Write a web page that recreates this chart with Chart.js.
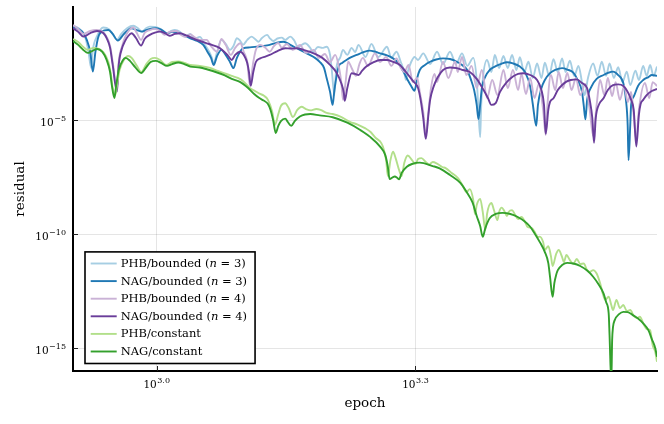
<!DOCTYPE html>
<html>
<head>
<meta charset="utf-8">
<script src="https://cdn.jsdelivr.net/npm/chart.js@4.4.1/dist/chart.umd.min.js"></script>
<style>
html,body{margin:0;padding:0;background:#ffffff;}
#wrap{width:664px;height:424px;position:relative;}
</style>
</head>
<body>
<div id="wrap"><canvas id="c" width="664" height="424"></canvas></div>
<script>
// ---- data: [log10(epoch), log10(residual)] ----
const phbBounded3 = [[2.903,-0.87],[2.909,-0.96],[2.915,-1.18],[2.918,-1.48],[2.921,-2.01],[2.924,-2.71],[2.926,-1.92],[2.931,-1.31],[2.938,-0.94],[2.945,-1.02],[2.949,-1.22],[2.954,-1.48],[2.959,-1.22],[2.966,-0.96],[2.973,-0.86],[2.978,-0.96],[2.983,-1.12],[2.988,-0.96],[2.992,-0.90],[2.998,-0.91],[3.004,-1.00],[3.012,-1.19],[3.017,-1.09],[3.021,-1.05],[3.027,-1.13],[3.033,-1.34],[3.039,-1.22],[3.044,-1.44],[3.050,-1.35],[3.056,-1.70],[3.061,-2.01],[3.064,-2.27],[3.066,-2.55],[3.070,-2.01],[3.075,-1.48],[3.080,-1.66],[3.085,-1.92],[3.089,-1.75],[3.093,-1.41],[3.097,-1.53],[3.100,-1.70],[3.105,-1.48],[3.110,-1.34],[3.114,-1.44],[3.118,-1.56],[3.122,-1.40],[3.128,-1.26],[3.131,-1.40],[3.135,-1.53],[3.140,-1.42],[3.145,-1.38],[3.149,-1.48],[3.155,-1.34],[3.159,-1.48],[3.164,-1.79],[3.172,-1.63],[3.178,-1.83],[3.181,-2.01],[3.187,-1.79],[3.192,-1.83],[3.197,-1.78],[3.201,-2.14],[3.203,-2.80],[3.206,-3.90],[3.208,-2.80],[3.213,-2.23],[3.216,-1.92],[3.221,-2.14],[3.226,-1.83],[3.230,-2.01],[3.234,-1.70],[3.242,-2.23],[3.249,-1.66],[3.257,-2.23],[3.267,-1.78],[3.272,-2.27],[3.278,-2.00],[3.283,-2.45],[3.287,-2.89],[3.289,-3.24],[3.291,-2.89],[3.295,-2.45],[3.299,-2.23],[3.303,-2.36],[3.309,-2.07],[3.317,-2.54],[3.325,-2.00],[3.332,-2.54],[3.340,-2.00],[3.347,-2.54],[3.354,-2.07],[3.360,-2.62],[3.367,-2.27],[3.371,-3.24],[3.373,-4.55],[3.375,-5.74],[3.376,-4.55],[3.378,-3.24],[3.383,-2.36],[3.388,-2.89],[3.392,-2.14],[3.397,-2.71],[3.402,-2.19],[3.407,-2.71],[3.412,-2.14],[3.417,-2.80],[3.421,-2.24],[3.426,-2.89],[3.431,-2.44],[3.436,-3.15],[3.441,-2.51],[3.446,-3.15],[3.450,-2.48],[3.455,-3.06],[3.460,-2.33],[3.465,-2.89],[3.470,-2.29],[3.474,-2.89],[3.479,-2.39],[3.484,-3.06],[3.489,-2.62],[3.493,-3.33],[3.496,-3.90],[3.500,-3.15],[3.506,-2.51],[3.511,-3.06],[3.516,-2.44],[3.521,-3.06],[3.525,-2.51],[3.530,-3.15],[3.535,-2.68],[3.540,-3.33],[3.545,-2.87],[3.549,-3.46],[3.555,-2.83],[3.559,-3.24],[3.564,-2.62],[3.568,-3.06],[3.572,-2.58],[3.576,-3.06],[3.580,-2.65]];

const nagBounded3 = [[2.903,-0.90],[2.909,-1.00],[2.915,-1.19],[2.919,-1.48],[2.923,-2.01],[2.926,-2.87],[2.929,-2.01],[2.932,-1.40],[2.936,-1.12],[2.944,-1.05],[2.949,-1.22],[2.955,-1.51],[2.962,-1.22],[2.971,-0.97],[2.977,-1.05],[2.983,-1.12],[2.990,-1.02],[3.000,-0.97],[3.006,-1.05],[3.012,-1.19],[3.018,-1.13],[3.023,-1.15],[3.031,-1.27],[3.039,-1.41],[3.047,-1.53],[3.054,-1.70],[3.059,-2.01],[3.063,-2.27],[3.066,-2.58],[3.070,-2.19],[3.075,-1.92],[3.080,-2.14],[3.085,-2.45],[3.089,-2.72],[3.093,-2.27],[3.100,-1.85],[3.108,-1.81],[3.116,-1.78],[3.123,-1.75],[3.131,-1.70],[3.138,-1.62],[3.147,-1.56],[3.155,-1.70],[3.164,-1.88],[3.174,-2.07],[3.182,-2.23],[3.189,-2.44],[3.194,-2.71],[3.197,-3.15],[3.201,-3.76],[3.204,-4.33],[3.206,-3.68],[3.211,-2.65],[3.215,-2.49],[3.220,-2.36],[3.225,-2.25],[3.232,-2.14],[3.239,-2.03],[3.247,-1.95],[3.254,-2.01],[3.259,-2.07],[3.267,-2.16],[3.274,-2.29],[3.280,-2.49],[3.286,-2.87],[3.291,-3.24],[3.295,-3.50],[3.299,-3.71],[3.302,-3.15],[3.305,-2.80],[3.311,-2.58],[3.317,-2.44],[3.324,-2.34],[3.332,-2.29],[3.340,-2.32],[3.348,-2.44],[3.354,-2.58],[3.360,-2.80],[3.364,-3.19],[3.368,-3.68],[3.371,-4.33],[3.373,-4.95],[3.375,-4.33],[3.377,-3.59],[3.381,-3.09],[3.386,-2.80],[3.392,-2.65],[3.399,-2.54],[3.406,-2.46],[3.413,-2.51],[3.421,-2.65],[3.427,-2.89],[3.433,-3.53],[3.436,-4.29],[3.440,-5.25],[3.442,-4.33],[3.446,-3.60],[3.450,-3.24],[3.456,-2.94],[3.462,-2.80],[3.470,-2.72],[3.476,-2.78],[3.483,-2.92],[3.488,-3.24],[3.493,-3.75],[3.495,-4.33],[3.497,-4.96],[3.499,-4.11],[3.504,-3.53],[3.510,-3.19],[3.518,-3.02],[3.523,-2.93],[3.529,-2.87],[3.535,-3.02],[3.541,-3.38],[3.544,-4.11],[3.546,-5.21],[3.547,-6.75],[3.549,-5.21],[3.550,-4.33],[3.553,-3.97],[3.558,-3.50],[3.564,-3.24],[3.570,-3.11],[3.574,-3.02],[3.580,-3.06]];

const phbBounded4 = [[2.903,-0.83],[2.909,-1.00],[2.915,-1.22],[2.923,-1.09],[2.930,-1.05],[2.938,-1.13],[2.942,-1.35],[2.946,-1.75],[2.949,-2.45],[2.954,-3.59],[2.956,-2.45],[2.960,-1.75],[2.964,-1.31],[2.973,-0.94],[2.977,-1.18],[2.982,-1.48],[2.986,-1.18],[2.992,-1.05],[2.998,-1.00],[3.004,-1.09],[3.009,-1.26],[3.015,-1.13],[3.023,-1.09],[3.028,-1.26],[3.033,-1.35],[3.039,-1.24],[3.044,-1.37],[3.050,-1.48],[3.058,-1.48],[3.063,-1.75],[3.070,-2.00],[3.075,-1.44],[3.080,-1.70],[3.086,-2.14],[3.091,-1.83],[3.097,-1.63],[3.101,-2.01],[3.105,-2.45],[3.108,-3.46],[3.112,-2.45],[3.115,-1.92],[3.120,-1.70],[3.126,-1.83],[3.131,-2.00],[3.136,-1.75],[3.141,-1.62],[3.145,-1.83],[3.151,-1.66],[3.158,-1.92],[3.166,-1.70],[3.173,-2.05],[3.182,-1.92],[3.188,-2.27],[3.195,-2.10],[3.201,-2.45],[3.207,-2.14],[3.211,-2.62],[3.214,-3.33],[3.216,-4.11],[3.219,-3.33],[3.222,-2.44],[3.226,-2.71],[3.231,-3.06],[3.235,-2.54],[3.239,-2.27],[3.245,-2.62],[3.253,-2.07],[3.259,-2.45],[3.266,-2.23],[3.272,-2.62],[3.278,-2.29],[3.283,-2.71],[3.287,-2.89],[3.292,-2.58],[3.297,-3.33],[3.302,-3.15],[3.305,-3.76],[3.309,-4.64],[3.312,-5.65],[3.315,-4.64],[3.318,-3.59],[3.322,-2.97],[3.325,-3.33],[3.332,-2.44],[3.338,-3.15],[3.346,-2.44],[3.349,-2.89],[3.354,-2.23],[3.359,-3.02],[3.365,-2.62],[3.371,-3.59],[3.377,-2.80],[3.383,-4.03],[3.389,-3.24],[3.395,-3.90],[3.402,-2.80],[3.407,-3.59],[3.413,-2.80],[3.419,-3.68],[3.423,-2.97],[3.428,-3.85],[3.433,-3.15],[3.438,-4.03],[3.443,-3.41],[3.448,-4.55],[3.451,-5.65],[3.453,-4.33],[3.457,-3.02],[3.462,-3.68],[3.466,-2.89],[3.471,-3.59],[3.476,-2.93],[3.481,-3.68],[3.486,-3.15],[3.491,-3.90],[3.497,-3.41],[3.502,-4.55],[3.506,-5.69],[3.510,-4.33],[3.514,-3.24],[3.519,-3.90],[3.523,-3.15],[3.528,-3.94],[3.532,-3.33],[3.537,-4.11],[3.542,-3.50],[3.546,-4.20],[3.550,-3.76],[3.553,-4.77],[3.556,-5.87],[3.559,-4.55],[3.566,-3.37],[3.571,-4.03],[3.575,-3.33],[3.580,-3.50]];

const nagBounded4 = [[2.903,-0.97],[2.909,-1.13],[2.915,-1.34],[2.923,-1.18],[2.931,-1.09],[2.938,-1.18],[2.942,-1.40],[2.946,-1.83],[2.949,-2.58],[2.954,-3.75],[2.956,-2.58],[2.960,-1.83],[2.963,-1.56],[2.967,-1.31],[2.971,-1.19],[2.976,-1.40],[2.982,-1.73],[2.986,-1.44],[2.992,-1.26],[2.998,-1.16],[3.004,-1.12],[3.010,-1.20],[3.015,-1.30],[3.021,-1.22],[3.027,-1.19],[3.035,-1.29],[3.042,-1.41],[3.050,-1.53],[3.058,-1.63],[3.064,-1.70],[3.070,-1.78],[3.076,-1.92],[3.082,-2.14],[3.087,-2.36],[3.091,-2.14],[3.097,-2.00],[3.101,-2.14],[3.105,-2.49],[3.107,-2.89],[3.109,-3.49],[3.112,-2.89],[3.115,-2.45],[3.120,-2.29],[3.126,-2.21],[3.131,-2.14],[3.140,-1.97],[3.149,-1.85],[3.155,-1.86],[3.162,-1.85],[3.172,-1.94],[3.182,-2.07],[3.192,-2.27],[3.201,-2.58],[3.208,-2.89],[3.214,-3.38],[3.217,-3.81],[3.218,-4.15],[3.221,-3.59],[3.226,-2.94],[3.230,-2.97],[3.234,-3.02],[3.238,-2.84],[3.243,-2.65],[3.251,-2.47],[3.259,-2.36],[3.267,-2.36],[3.274,-2.44],[3.282,-2.58],[3.290,-2.94],[3.297,-3.28],[3.303,-3.59],[3.306,-4.11],[3.309,-4.90],[3.312,-5.82],[3.315,-4.77],[3.317,-4.11],[3.321,-3.53],[3.326,-3.11],[3.332,-2.80],[3.340,-2.69],[3.348,-2.72],[3.355,-2.80],[3.363,-2.89],[3.371,-3.19],[3.379,-3.68],[3.384,-4.03],[3.388,-4.33],[3.393,-4.25],[3.398,-3.76],[3.405,-3.37],[3.413,-3.09],[3.419,-2.97],[3.425,-2.94],[3.433,-3.02],[3.441,-3.24],[3.446,-3.68],[3.449,-4.33],[3.451,-5.60],[3.454,-4.55],[3.456,-4.20],[3.460,-4.04],[3.465,-3.68],[3.470,-3.46],[3.475,-3.31],[3.480,-3.24],[3.487,-3.21],[3.493,-3.37],[3.499,-3.60],[3.502,-4.11],[3.505,-4.90],[3.507,-5.99],[3.509,-4.90],[3.513,-4.29],[3.518,-4.04],[3.523,-3.68],[3.529,-3.46],[3.535,-3.43],[3.541,-3.50],[3.546,-3.76],[3.550,-4.11],[3.553,-4.55],[3.556,-6.15],[3.559,-4.77],[3.561,-4.29],[3.564,-4.11],[3.568,-3.90],[3.574,-3.72],[3.580,-3.63]];

const phbConstant = [[2.903,-1.44],[2.909,-1.57],[2.915,-1.79],[2.920,-1.92],[2.927,-1.83],[2.932,-1.86],[2.938,-2.01],[2.944,-2.45],[2.947,-3.02],[2.949,-3.59],[2.952,-3.90],[2.954,-3.46],[2.957,-2.80],[2.962,-2.36],[2.967,-2.19],[2.971,-2.27],[2.977,-2.62],[2.982,-2.89],[2.988,-2.54],[2.993,-2.32],[2.998,-2.27],[3.004,-2.36],[3.011,-2.58],[3.018,-2.45],[3.025,-2.43],[3.032,-2.49],[3.039,-2.58],[3.050,-2.62],[3.062,-2.71],[3.071,-2.84],[3.079,-2.95],[3.087,-3.06],[3.094,-3.15],[3.100,-3.28],[3.108,-3.59],[3.114,-3.72],[3.120,-3.85],[3.124,-3.92],[3.129,-4.11],[3.134,-4.64],[3.137,-5.21],[3.141,-4.73],[3.144,-4.38],[3.149,-4.26],[3.153,-4.47],[3.158,-4.86],[3.163,-4.55],[3.168,-4.41],[3.173,-4.51],[3.179,-4.57],[3.185,-4.51],[3.190,-4.55],[3.197,-4.68],[3.204,-4.73],[3.213,-4.84],[3.224,-5.07],[3.233,-5.19],[3.242,-5.36],[3.248,-5.52],[3.254,-5.78],[3.259,-5.93],[3.262,-6.13],[3.266,-6.75],[3.268,-7.45],[3.271,-6.75],[3.274,-6.38],[3.277,-6.66],[3.281,-7.18],[3.284,-7.45],[3.287,-6.88],[3.291,-6.55],[3.296,-6.75],[3.300,-6.92],[3.303,-6.70],[3.307,-6.66],[3.312,-6.83],[3.316,-6.94],[3.320,-6.83],[3.325,-6.90],[3.331,-7.05],[3.335,-7.10],[3.342,-7.31],[3.349,-7.53],[3.355,-7.88],[3.359,-8.15],[3.363,-8.02],[3.367,-8.50],[3.369,-9.11],[3.371,-8.72],[3.375,-8.45],[3.378,-9.02],[3.381,-9.81],[3.383,-9.11],[3.388,-8.63],[3.391,-8.94],[3.395,-9.38],[3.397,-9.02],[3.400,-8.83],[3.403,-8.98],[3.406,-9.20],[3.408,-9.02],[3.412,-8.94],[3.415,-9.11],[3.419,-9.33],[3.423,-9.24],[3.427,-9.46],[3.430,-9.68],[3.435,-9.73],[3.439,-9.95],[3.442,-10.12],[3.444,-10.10],[3.448,-10.34],[3.450,-10.69],[3.454,-10.52],[3.457,-10.95],[3.459,-11.39],[3.463,-10.87],[3.466,-10.69],[3.470,-11.00],[3.472,-11.22],[3.475,-10.91],[3.479,-11.13],[3.483,-11.30],[3.487,-11.08],[3.491,-11.30],[3.495,-11.28],[3.499,-11.57],[3.502,-11.65],[3.506,-11.57],[3.510,-11.72],[3.514,-12.14],[3.517,-12.58],[3.520,-12.88],[3.524,-12.73],[3.527,-13.10],[3.529,-13.32],[3.533,-12.88],[3.537,-13.23],[3.541,-13.10],[3.545,-13.36],[3.549,-13.32],[3.553,-13.58],[3.557,-13.67],[3.560,-13.61],[3.565,-13.98],[3.568,-14.15],[3.572,-14.20],[3.575,-14.86],[3.578,-15.16],[3.580,-15.59]];

const nagConstant = [[2.903,-1.53],[2.909,-1.70],[2.915,-1.92],[2.920,-2.05],[2.925,-1.97],[2.931,-1.88],[2.937,-2.01],[2.942,-2.36],[2.946,-2.89],[2.948,-3.46],[2.951,-4.03],[2.953,-3.50],[2.956,-2.80],[2.961,-2.36],[2.964,-2.27],[2.969,-2.40],[2.975,-2.67],[2.982,-2.93],[2.988,-2.67],[2.993,-2.45],[2.999,-2.40],[3.005,-2.49],[3.012,-2.62],[3.018,-2.54],[3.025,-2.47],[3.032,-2.54],[3.039,-2.65],[3.050,-2.69],[3.059,-2.78],[3.070,-2.91],[3.079,-3.04],[3.087,-3.19],[3.097,-3.33],[3.106,-3.59],[3.113,-3.85],[3.119,-4.03],[3.124,-4.14],[3.129,-4.29],[3.132,-4.55],[3.135,-4.99],[3.138,-5.56],[3.141,-5.25],[3.144,-5.04],[3.149,-4.93],[3.152,-5.08],[3.156,-5.25],[3.160,-5.04],[3.166,-4.84],[3.172,-4.75],[3.178,-4.73],[3.189,-4.79],[3.204,-4.87],[3.221,-5.11],[3.236,-5.43],[3.247,-5.72],[3.259,-6.16],[3.265,-6.53],[3.268,-7.05],[3.270,-7.58],[3.274,-7.49],[3.276,-7.47],[3.279,-7.53],[3.281,-7.59],[3.284,-7.31],[3.290,-7.04],[3.296,-6.92],[3.305,-6.86],[3.320,-7.01],[3.328,-7.11],[3.340,-7.40],[3.352,-7.75],[3.360,-8.19],[3.366,-8.59],[3.371,-9.20],[3.375,-9.64],[3.378,-10.11],[3.381,-9.73],[3.386,-9.30],[3.393,-9.11],[3.401,-9.06],[3.410,-9.11],[3.418,-9.23],[3.426,-9.42],[3.433,-9.67],[3.438,-9.95],[3.444,-10.33],[3.450,-10.78],[3.454,-11.26],[3.456,-11.87],[3.459,-12.74],[3.461,-12.14],[3.463,-11.79],[3.465,-11.57],[3.470,-11.35],[3.476,-11.25],[3.483,-11.28],[3.491,-11.39],[3.499,-11.59],[3.506,-11.86],[3.512,-12.18],[3.518,-12.59],[3.521,-12.97],[3.524,-13.47],[3.525,-14.42],[3.527,-16.50],[3.528,-14.64],[3.529,-14.07],[3.531,-13.76],[3.536,-13.50],[3.541,-13.40],[3.546,-13.41],[3.552,-13.54],[3.558,-13.69],[3.564,-13.90],[3.570,-14.20],[3.574,-14.59],[3.578,-14.99],[3.580,-15.37]];

// ---- labels / ticks ----
const seriesNames = ['PHB/bounded', 'NAG/bounded', 'PHB/bounded', 'NAG/bounded', 'PHB/constant', 'NAG/constant'];
const seriesN = [3, 3, 4, 4, null, null];
const seriesData = [phbBounded3, nagBounded3, phbBounded4, nagBounded4, phbConstant, nagConstant];
const xTickValues = [3.0, 3.3];
const xTickExponents = ['3.0', '3.3'];
const yTickValues = [-15, -10, -5];
const yTickExponents = ['\u221215', '\u221210', '\u22125'];
const xAxisTitle = 'epoch';
const yAxisTitle = 'residual';

// ---- styles ----
const seriesColors = ['#a6cee3', '#1f78b4', '#cab2d6', '#6a3d9a', '#b2df8a', '#33a02c'];
const SERIF = '"DejaVu Serif", "Liberation Serif", serif';

function legendText(i) {
  return seriesN[i] === null ? seriesNames[i] : seriesNames[i] + ' (n = ' + seriesN[i] + ')';
}

const decor = {
  id: 'decor',
  afterDraw(chart) {
    const ctx = chart.ctx;
    const a = chart.chartArea;
    const xs = chart.scales.x, ys = chart.scales.y;
    ctx.save();
    // inward tick marks
    ctx.strokeStyle = '#222';
    ctx.lineWidth = 1;
    xTickValues.forEach(v => {
      const px = Math.round(xs.getPixelForValue(v)) + 0.5;
      ctx.beginPath(); ctx.moveTo(px, a.bottom); ctx.lineTo(px, a.bottom - 5); ctx.stroke();
    });
    yTickValues.forEach(v => {
      const py = Math.round(ys.getPixelForValue(v)) + 0.5;
      ctx.beginPath(); ctx.moveTo(a.left, py); ctx.lineTo(a.left + 5, py); ctx.stroke();
    });
    ctx.fillStyle = '#000';
    ctx.textBaseline = 'alphabetic';
    const mainF = '10.5px ' + SERIF, supF = '8px ' + SERIF;
    // y tick labels
    yTickValues.forEach((v, i) => {
      const py = ys.getPixelForValue(v);
      ctx.font = supF;
      const ew = ctx.measureText(yTickExponents[i]).width;
      ctx.textAlign = 'left';
      const right = a.left - 7;
      ctx.fillText(yTickExponents[i], right - ew, py + 0.5);
      ctx.font = mainF;
      ctx.textAlign = 'right';
      ctx.fillText('10', right - ew - 0.5, py + 5.5);
    });
    // x tick labels
    xTickValues.forEach((v, i) => {
      const px = xs.getPixelForValue(v);
      ctx.font = mainF;
      const bw = ctx.measureText('10').width;
      ctx.font = supF;
      const ew = ctx.measureText(xTickExponents[i]).width;
      const left = px - (bw + ew + 0.5) / 2;
      ctx.textAlign = 'left';
      ctx.font = mainF;
      ctx.fillText('10', left, a.bottom + 16.5);
      ctx.font = supF;
      ctx.fillText(xTickExponents[i], left + bw + 0.5, a.bottom + 11.5);
    });
    // axis titles
    ctx.font = '13.5px ' + SERIF;
    ctx.textAlign = 'center';
    ctx.fillText(xAxisTitle, (a.left + a.right) / 2, a.bottom + 35.5);
    ctx.save();
    ctx.translate(24, (a.top + a.bottom) / 2);
    ctx.rotate(-Math.PI / 2);
    ctx.fillText(yAxisTitle, 0, 0);
    ctx.restore();

    // legend
    const lf = '11.5px ' + SERIF, lfi = 'italic 11.5px ' + SERIF;
    function drawEntry(i, x, y, measureOnly) {
      let w = 0;
      const parts = seriesN[i] === null ? [[seriesNames[i], lf]] :
        [[seriesNames[i] + ' (', lf], ['n', lfi], [' = ' + seriesN[i] + ')', lf]];
      parts.forEach(p => {
        ctx.font = p[1];
        if (!measureOnly) ctx.fillText(p[0], x + w, y);
        w += ctx.measureText(p[0]).width;
      });
      return w;
    }
    let maxW = 0;
    for (let i = 0; i < seriesData.length; i++) maxW = Math.max(maxW, drawEntry(i, 0, 0, true));
    const bx = a.left + 12, bBottom = a.bottom - 7.5, rowH = 17.6;
    const bh = rowH * seriesData.length + 6;
    const by = bBottom - bh;
    const bw = 35.7 + maxW + 8;
    ctx.fillStyle = '#fff';
    ctx.fillRect(bx, by, bw, bh);
    ctx.strokeStyle = '#000';
    ctx.lineWidth = 1.6;
    ctx.strokeRect(bx, by, bw, bh);
    ctx.textAlign = 'left';
    ctx.textBaseline = 'middle';
    for (let i = 0; i < seriesData.length; i++) {
      const ry = by + 11.6 + i * rowH;
      ctx.strokeStyle = seriesColors[i];
      ctx.lineWidth = 1.9;
      ctx.beginPath(); ctx.moveTo(bx + 5.7, ry); ctx.lineTo(bx + 31.7, ry); ctx.stroke();
      ctx.fillStyle = '#000';
      drawEntry(i, bx + 35.7, ry + 0.5, false);
    }
    ctx.restore();
  }
};

const datasets = seriesData.map((d, i) => ({
  label: legendText(i),
  data: d.map(p => ({ x: p[0], y: p[1] })),
  borderColor: seriesColors[i],
  backgroundColor: seriesColors[i],
  borderWidth: 1.9,
  pointRadius: 0,
  cubicInterpolationMode: 'monotone',
  fill: false,
  order: seriesData.length - 1 - i
}));

new Chart(document.getElementById('c'), {
  type: 'line',
  data: { datasets },
  options: {
    responsive: false,
    animation: false,
    events: [],
    layout: { padding: { left: 73, right: 7, top: 7, bottom: 53 } },
    plugins: { legend: { display: false }, tooltip: { enabled: false } },
    scales: {
      x: {
        type: 'linear', min: 2.903, max: 3.580,
        afterBuildTicks: s => { s.ticks = xTickValues.map(v => ({ value: v })); },
        ticks: { display: false },
        grid: { color: 'rgba(0,0,0,0.1)', lineWidth: 1, drawTicks: false },
        border: { display: true, color: '#000', width: 2 }
      },
      y: {
        type: 'linear', min: -15.99, max: -0.04,
        afterBuildTicks: s => { s.ticks = yTickValues.map(v => ({ value: v })); },
        ticks: { display: false },
        grid: { color: 'rgba(0,0,0,0.1)', lineWidth: 1, drawTicks: false },
        border: { display: true, color: '#000', width: 2 }
      }
    }
  },
  plugins: [decor]
});
</script>
</body>
</html>
